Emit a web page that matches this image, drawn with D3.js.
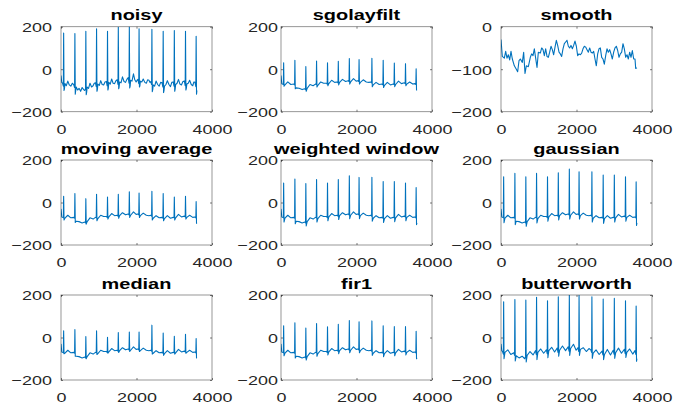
<!DOCTYPE html>
<html>
<head>
<meta charset="utf-8">
<script src="https://cdn.jsdelivr.net/npm/d3@7"></script>
<style>
  body { margin: 0; background: #fff; }
  svg { display: block; }
</style>
</head>
<body>
<div id="chart"></div>
<script>
// sample index of the non-beat points, shared by the filtered panels
const baseX = [0, 20,
  40, 62, 105, 180, 260,
  338, 360, 403, 478, 560,
  628, 650, 693, 768, 850,
  912, 934, 977, 1052, 1130,
  1202, 1224, 1267, 1342, 1420,
  1488, 1510, 1553, 1628, 1710,
  1780, 1802, 1845, 1920, 1990,
  2038, 2060, 2103, 2178, 2260, 2330,
  2378, 2400, 2443, 2518, 2600,
  2677, 2699, 2742, 2817, 2900,
  2972, 2994, 3037, 3112, 3190,
  3268, 3290, 3333, 3408, 3490,
  3550, 3572, 3600];

const beatX = [70, 368, 658, 942, 1232, 1518, 1810, 2068, 2408, 2707, 3002, 3298, 3580];
const dipX = [80, 378, 668, 952, 1242, 1528, 1820, 2078, 2418, 2717, 3012, 3308, 3590];

const baseFiltered = [-30, -68,
  -70, -72, -74, -60, -72,
  -70, -74, -88, -90, -96,
  -92, -96, -90, -72, -78,
  -70, -72, -76, -60, -66,
  -66, -70, -68, -52, -62,
  -60, -64, -62, -48, -58,
  -54, -58, -60, -44, -56,
  -54, -58, -62, -50, -60, -62,
  -60, -64, -74, -62, -72,
  -70, -74, -76, -62, -74,
  -70, -72, -72, -56, -68,
  -64, -68, -70, -60, -70,
  -68, -72,
  -96];

const baseButter = [-30, -62,
  -66, -78, -70, -58, -80,
  -72, -84, -86, -96, -88,
  -100, -90, -84, -66, -82,
  -62, -80, -70, -54, -74,
  -58, -76, -62, -46, -68,
  -50, -70, -60, -40, -62,
  -44, -64, -52, -32, -60,
  -48, -66, -56, -48, -66, -52,
  -58, -70, -74, -58, -80,
  -64, -82, -80, -56, -82,
  -60, -78, -72, -50, -74,
  -56, -76, -70, -54, -78,
  -62, -80,
  -100];

// the raw signal is read more densely, it is much rougher
const noisyX = [0, 20, 40, 62, 92, 105, 140, 180, 220, 260, 300, 338, 360, 390, 403, 440,
  478, 520, 560, 600, 628, 650, 680, 693, 730, 768, 810, 850, 880, 912, 934, 964, 977,
  1015, 1052, 1090, 1130, 1165, 1202, 1224, 1254, 1267, 1305, 1342, 1380, 1420, 1455,
  1488, 1510, 1540, 1553, 1590, 1628, 1670, 1710, 1745, 1780, 1802, 1832, 1845, 1880,
  1920, 1955, 1990, 2015, 2038, 2060, 2090, 2103, 2140, 2178, 2220, 2260, 2295, 2330,
  2355, 2378, 2400, 2430, 2443, 2480, 2518, 2560, 2600, 2640, 2677, 2699, 2729, 2742,
  2780, 2817, 2860, 2900, 2935, 2972, 2994, 3024, 3037, 3075, 3112, 3150, 3190, 3230,
  3268, 3290, 3320, 3333, 3370, 3408, 3450, 3490, 3520, 3550, 3572, 3600];
const noisyY = [-30, -62, -66, -80, -92, -68, -78, -56, -74, -80, -66, -74, -86, -100, -84, -98,
  -90, -104, -86, -96, -100, -92, -108, -84, -90, -66, -84, -78, -66, -64, -82, -96, -70,
  -76, -54, -72, -74, -60, -58, -78, -90, -62, -70, -46, -66, -68, -54,
  -50, -72, -84, -60, -64, -36, -58, -62, -48, -40, -66, -80, -52, -56,
  -22, -50, -60, -52, -48, -68, -78, -56, -60, -46, -62, -66, -50, -52,
  -62, -58, -72, -96, -74, -80, -56, -72, -80, -62, -64, -84, -100, -80,
  -72, -54, -72, -82, -62, -60, -80, -94, -72, -66, -48, -70, -74, -58,
  -56, -78, -90, -70, -66, -52, -72, -78, -60, -62, -82, -100];

const peaksNoisy = [170, 168, 178, 190, 178, 198, 202, 190, 188, 178, 182, 178, 155];
const dipsNoisy = [-100, -118, -120, -104, -98, -92, -88, -84, -106, -110, -104, -98, -118];
const peaksSgolay = [30, 42, 13, 38, 30, 37, 50, 45, 51, 42, 29, 26, 2];
const dipsSgolay = [-80, -92, -104, -84, -78, -74, -70, -70, -82, -86, -82, -78, -98];
const peaksMovAvg = [29, 42, 18, 39, 26, 39, 50, 45, 53, 42, 26, 29, 4];
const dipsMovAvg = [-82, -94, -102, -86, -78, -74, -70, -70, -82, -86, -82, -78, -98];
const peaksWeighted = [92, 110, 89, 108, 92, 108, 126, 118, 119, 99, 99, 92, 70];
const dipsWeighted = [-92, -100, -110, -92, -86, -80, -76, -76, -88, -94, -90, -86, -104];
const peaksGauss = [121, 137, 121, 137, 121, 140, 157, 145, 145, 129, 129, 121, 97];
const dipsGauss = [-95, -104, -112, -96, -88, -82, -78, -78, -92, -98, -92, -88, -108];
const peaksMedian = [31, 37, 5, 31, 1, 23, 26, 26, 58, 21, 6, 15, -5];
const dipsMedian = [-76, -88, -100, -80, -74, -70, -66, -66, -78, -84, -78, -74, -96];
const peaksFir = [55, 69, 45, 66, 50, 62, 80, 74, 78, 55, 51, 51, 29];
const dipsFir = [-86, -96, -106, -88, -82, -76, -72, -72, -84, -90, -86, -82, -100];
const peaksButter = [168, 179, 176, 189, 173, 192, 205, 198, 192, 181, 184, 173, 148];
const dipsButter = [-100, -110, -115, -104, -95, -88, -84, -84, -98, -104, -98, -94, -112];

// the smooth() panel has no spikes left
const smoothX = [0, 35, 88, 124, 159, 194, 230, 265, 300, 353,
  406, 441, 477, 512, 565, 600, 636, 671, 724, 777,
  812, 848, 883, 918, 954, 989, 1042, 1077, 1113, 1148,
  1183, 1219, 1254, 1289, 1325, 1360, 1395, 1431, 1466, 1501,
  1537, 1572, 1607, 1642, 1678, 1713, 1748, 1784, 1819, 1854,
  1890, 1925, 1960, 1996, 2031, 2066, 2102, 2137, 2172, 2208,
  2243, 2278, 2314, 2349, 2384, 2420, 2455, 2490, 2525, 2561,
  2596, 2631, 2667, 2702, 2737, 2773, 2808, 2843, 2879, 2914,
  2949, 2985, 3020, 3055, 3091, 3126, 3161, 3197, 3232, 3267,
  3303, 3338, 3373, 3409, 3444, 3479, 3515, 3550, 3568, 3603];
const smoothY = [-30, -70, -74, -58, -74, -66, -78, -58, -76, -92,
  -100, -106, -80, -76, -84, -60, -110, -92, -94, -72,
  -64, -68, -52, -74, -96, -60, -62, -50, -54, -68,
  -52, -70, -72, -60, -46, -54, -66, -48, -32, -44,
  -60, -64, -70, -52, -40, -36, -32, -46, -50, -44,
  -52, -44, -34, -46, -68, -64, -66, -62, -52, -46,
  -48, -54, -60, -50, -60, -62, -58, -76, -92, -64,
  -52, -50, -72, -76, -88, -68, -52, -60, -54, -64,
  -76, -60, -50, -46, -56, -72, -64, -60, -40, -52,
  -72, -66, -76, -60, -72, -56, -76, -76, -98, -97];

const titles = ['noisy', 'sgolayfilt', 'smooth', 'moving average', 'weighted window',
  'gaussian', 'median', 'fir1', 'butterworth'];
const xTicks = [0, 2000, 4000];
const yTicksWide = [-200, 0, 200];
const yTicksSmooth = [-200, -100, 0];

const buildSeries = (xs, ys, peaks, dips) => {
  const pts = xs.map((x, i) => [x, ys[i]]);
  beatX.forEach((x, i) => pts.push([x, peaks[i]]));
  dipX.forEach((x, i) => pts.push([x, dips[i]]));
  return pts.sort((a, b) => a[0] - b[0]);
};

const series = [
  buildSeries(noisyX, noisyY, peaksNoisy, dipsNoisy),
  buildSeries(baseX, baseFiltered, peaksSgolay, dipsSgolay),
  smoothX.map((x, i) => [x, smoothY[i]]),
  buildSeries(baseX, baseFiltered, peaksMovAvg, dipsMovAvg),
  buildSeries(baseX, baseFiltered, peaksWeighted, dipsWeighted),
  buildSeries(baseX, baseFiltered, peaksGauss, dipsGauss),
  buildSeries(baseX, baseFiltered, peaksMedian, dipsMedian),
  buildSeries(baseX, baseFiltered, peaksFir, dipsFir),
  buildSeries(baseX, baseButter, peaksButter, dipsButter)
];

const width = 685, height = 408;
const colLeft = [61, 281, 501];
const rowTop = [26.7, 160, 295];
const plotW = 151, plotH = 85;
const labelGap = [9, 3, 9];
const stretch = 1.33;
const font = "'Liberation Sans', Arial, Helvetica, sans-serif";
const lineColor = '#0072BD';
const axisColor = '#262626';

const svg = d3.select('#chart').append('svg')
  .attr('width', width)
  .attr('height', height);

titles.forEach((title, k) => {
  const col = k % 3, row = Math.floor(k / 3);
  const smooth = title === 'smooth';
  const g = svg.append('g')
    .attr('transform', `translate(${colLeft[col]},${rowTop[row]})`);

  const x = d3.scaleLinear().domain([0, 4000]).range([0, plotW]);
  const y = d3.scaleLinear().domain(smooth ? [-200, 0] : [-200, 200]).range([plotH, 0]);
  const yTicks = smooth ? yTicksSmooth : yTicksWide;

  g.append('clipPath').attr('id', `clip-${k}`)
    .append('rect').attr('width', plotW).attr('height', plotH);

  g.append('path')
    .datum(series[k])
    .attr('clip-path', `url(#clip-${k})`)
    .attr('fill', 'none')
    .attr('stroke', lineColor)
    .attr('stroke-width', 1.1)
    .attr('stroke-linejoin', 'round')
    .attr('d', d3.line().x(d => x(d[0])).y(d => y(d[1])));

  // box
  g.append('rect')
    .attr('width', plotW).attr('height', plotH)
    .attr('fill', 'none')
    .attr('stroke', axisColor)
    .attr('stroke-opacity', 0.6)
    .attr('stroke-width', 0.8);

  const styleAxis = (a) => {
    a.select('.domain').remove();
    a.selectAll('line').attr('stroke', axisColor).attr('stroke-opacity', 0.6);
    a.selectAll('text')
      .attr('fill', axisColor)
      .style('font-family', font)
      .style('font-size', '13.5px');
  };

  const bottom = g.append('g').attr('transform', `translate(0,${plotH})`)
    .call(d3.axisBottom(x).tickValues(xTicks).tickSize(-2).tickFormat(d3.format('d')))
    .call(styleAxis);
  bottom.selectAll('text')
    .attr('y', 0).attr('dy', null)
    .attr('transform', `translate(0,22) scale(${stretch},1)`);

  g.append('g')
    .call(d3.axisTop(x).tickValues(xTicks).tickSize(-2).tickFormat(''))
    .call(styleAxis);

  const left = g.append('g')
    .call(d3.axisLeft(y).tickValues(yTicks).tickSize(-2).tickFormat(d3.format('d')))
    .call(styleAxis);
  left.selectAll('text')
    .attr('x', 0).attr('dy', '0.36em')
    .attr('transform', `translate(${-labelGap[col]},0) scale(${stretch},1)`);

  g.append('g').attr('transform', `translate(${plotW},0)`)
    .call(d3.axisRight(y).tickValues(yTicks).tickSize(-2).tickFormat(''))
    .call(styleAxis);

  g.append('text')
    .attr('transform', `translate(${plotW / 2},-6.5) scale(1.33,1)`)
    .attr('text-anchor', 'middle')
    .attr('fill', '#000')
    .style('font-family', font)
    .style('font-size', '15px')
    .style('font-weight', 'bold')
    .text(title);
});
</script>
</body>
</html>
